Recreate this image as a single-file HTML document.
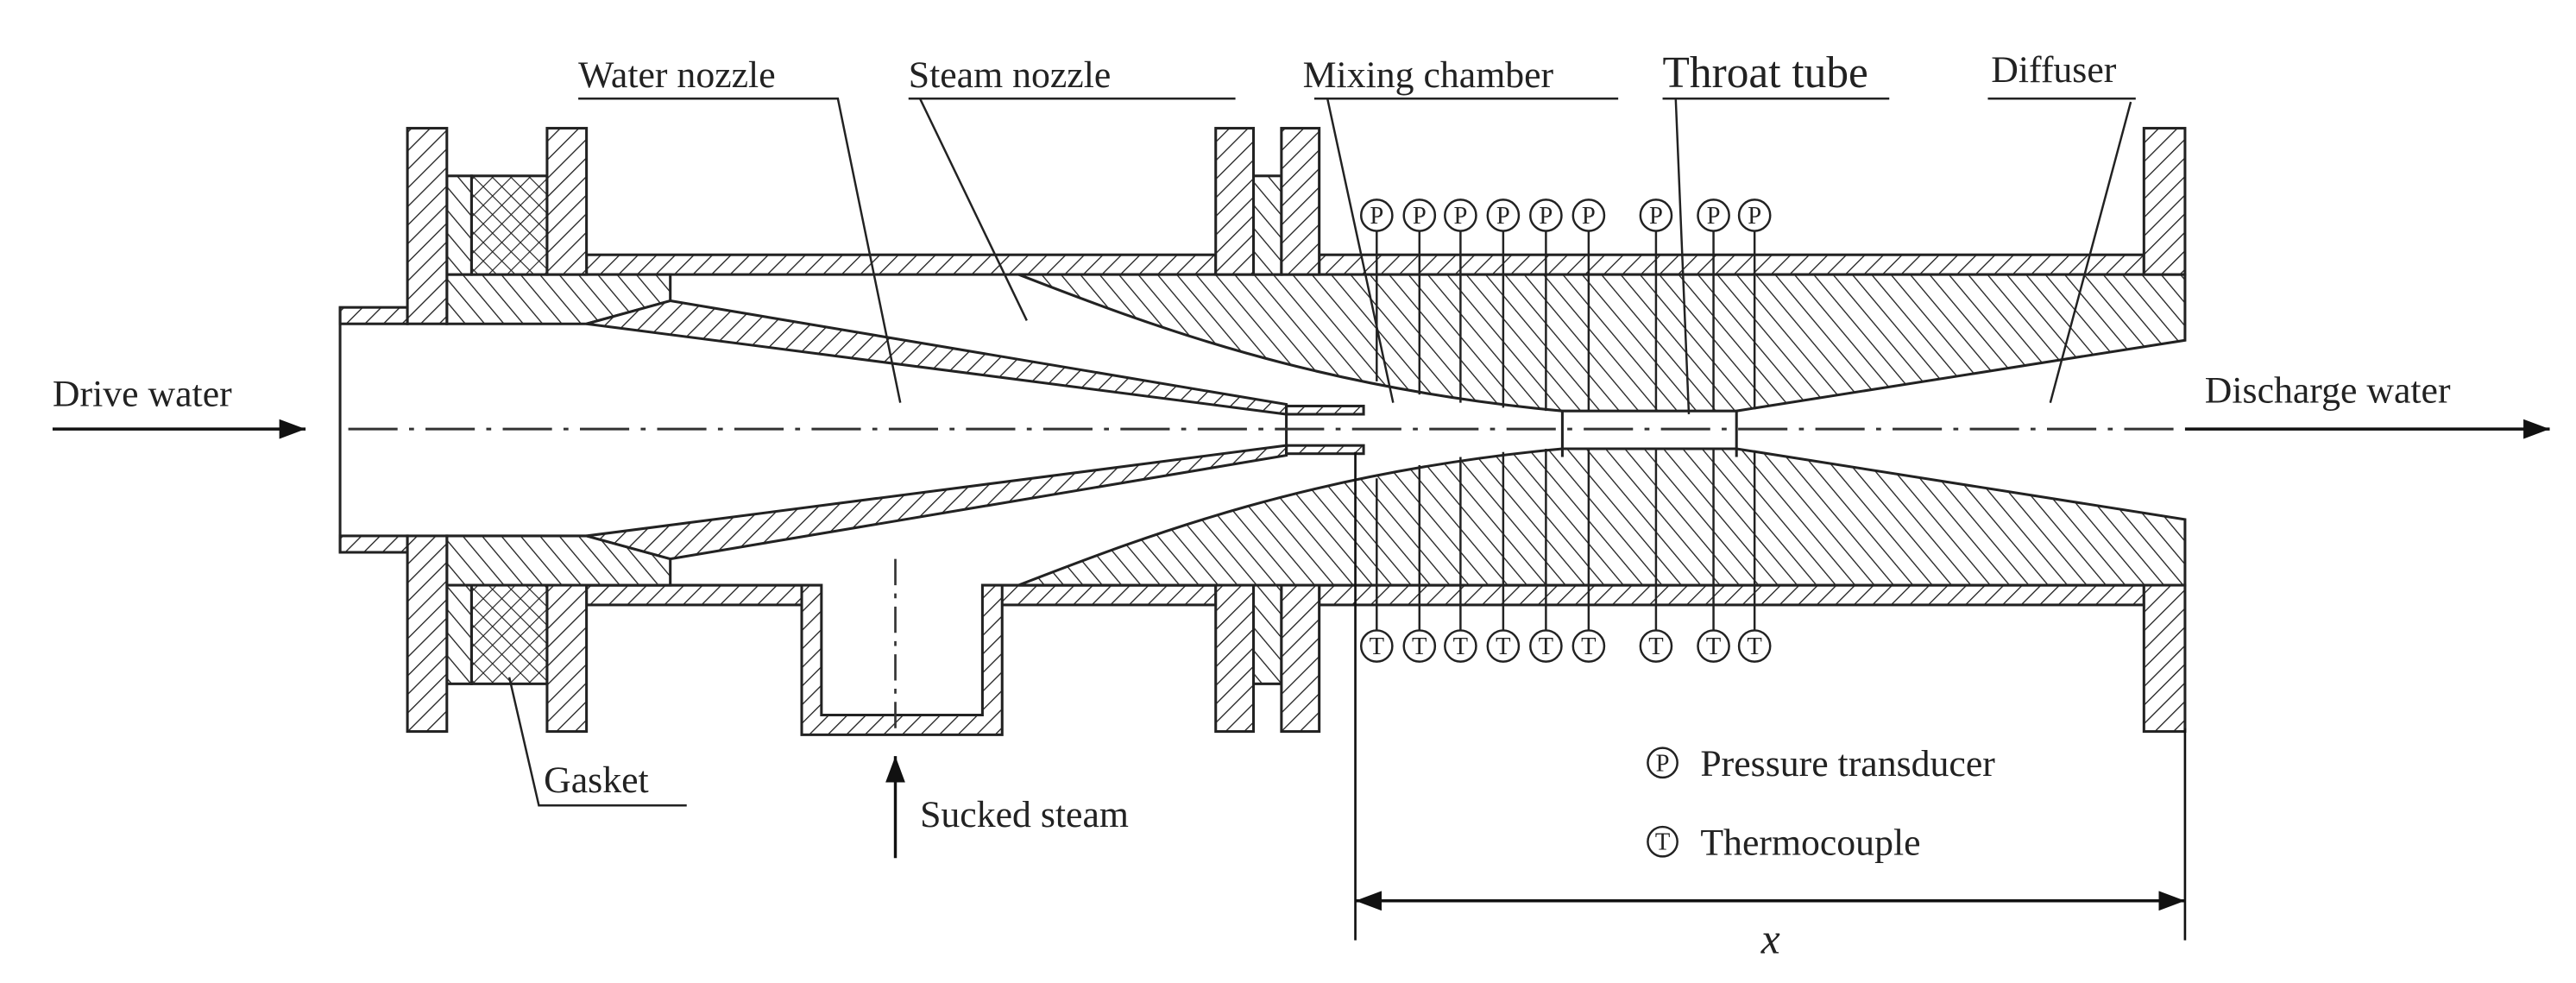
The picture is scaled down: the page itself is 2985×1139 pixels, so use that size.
<!DOCTYPE html>
<html><head><meta charset="utf-8"><style>
html,body{margin:0;padding:0;background:#fff;}
svg{display:block;}
text{font-family:"Liberation Serif",serif;fill:#222;}
</style></head><body>
<svg width="2985" height="1139" viewBox="0 0 1568 598" preserveAspectRatio="none" xmlns="http://www.w3.org/2000/svg">
<defs>
<pattern id="hF" patternUnits="userSpaceOnUse" width="8" height="8" patternTransform="rotate(45)">
<rect width="8" height="8" fill="#fff"/><line x1="0" y1="0" x2="0" y2="8" stroke="#222" stroke-width="1.4"/></pattern>
<pattern id="hB" patternUnits="userSpaceOnUse" width="9" height="9" patternTransform="rotate(-40)">
<rect width="9" height="9" fill="#fff"/><line x1="0" y1="0" x2="0" y2="9" stroke="#222" stroke-width="1.4"/></pattern>
<pattern id="hF2" patternUnits="userSpaceOnUse" width="8" height="8" patternTransform="rotate(-45)">
<rect width="8" height="8" fill="#fff"/><line x1="0" y1="0" x2="0" y2="8" stroke="#222" stroke-width="1.4"/></pattern>
<pattern id="hB2" patternUnits="userSpaceOnUse" width="9" height="9" patternTransform="rotate(40)">
<rect width="9" height="9" fill="#fff"/><line x1="0" y1="0" x2="0" y2="9" stroke="#222" stroke-width="1.4"/></pattern>
<pattern id="hX" patternUnits="userSpaceOnUse" width="8" height="8" patternTransform="rotate(45)">
<rect width="8" height="8" fill="#fff"/><line x1="0" y1="0" x2="0" y2="8" stroke="#222" stroke-width="1.2"/><line x1="0" y1="0" x2="8" y2="0" stroke="#222" stroke-width="1.2"/></pattern>
<marker id="arS" markerWidth="16" markerHeight="12" refX="16" refY="6" orient="auto" markerUnits="userSpaceOnUse"><path d="M0,0 L16,6 L0,12 Z" fill="#111"/></marker>
<marker id="arSb" markerWidth="16" markerHeight="12" refX="0" refY="6" orient="auto" markerUnits="userSpaceOnUse"><path d="M16,0 L0,6 L16,12 Z" fill="#111"/></marker>
</defs>
<g stroke="#222" stroke-width="1.6">
<g>
 <rect x="357" y="155" width="383" height="12" fill="url(#hF)"/>
 <rect x="803" y="155" width="502" height="12" fill="url(#hF)"/>
 <path d="M620,167 C700,198 800,236 951,250 L1057,250 L1330,207 L1330,167 Z" fill="url(#hB)"/>
 <rect x="207" y="187" width="41" height="10" fill="url(#hF)"/>
 <polygon points="272,167 408,167 408,183 357,197 272,197" fill="url(#hB)"/>
 <polygon points="408,183 783,246 783,252 357,197" fill="url(#hF)"/>
 <rect x="783" y="247" width="47" height="5" fill="url(#hF)"/>
 <rect x="287" y="107" width="46" height="60" fill="url(#hX)"/>
 <rect x="272" y="107" width="15" height="60" fill="url(#hB)"/>
 <rect x="763" y="107" width="17" height="60" fill="url(#hB)"/>
 <rect x="248" y="78" width="24" height="119" fill="url(#hF)"/>
 <rect x="333" y="78" width="24" height="89" fill="url(#hF)"/>
 <rect x="740" y="78" width="23" height="89" fill="url(#hF)"/>
 <rect x="780" y="78" width="23" height="89" fill="url(#hF)"/>
 <rect x="1305" y="78" width="25" height="89" fill="url(#hF)"/>
</g>
<g transform="translate(0,523) scale(1,-1)">
 <rect x="357" y="155" width="383" height="12" fill="url(#hF2)"/>
 <rect x="803" y="155" width="502" height="12" fill="url(#hF2)"/>
 <path d="M620,167 C700,198 800,236 951,250 L1057,250 L1330,207 L1330,167 Z" fill="url(#hB2)"/>
 <rect x="207" y="187" width="41" height="10" fill="url(#hF2)"/>
 <polygon points="272,167 408,167 408,183 357,197 272,197" fill="url(#hB2)"/>
 <polygon points="408,183 783,246 783,252 357,197" fill="url(#hF2)"/>
 <rect x="783" y="247" width="47" height="5" fill="url(#hF2)"/>
 <rect x="287" y="107" width="46" height="60" fill="url(#hX)"/>
 <rect x="272" y="107" width="15" height="60" fill="url(#hB2)"/>
 <rect x="763" y="107" width="17" height="60" fill="url(#hB2)"/>
 <rect x="248" y="78" width="24" height="119" fill="url(#hF2)"/>
 <rect x="333" y="78" width="24" height="89" fill="url(#hF2)"/>
 <rect x="740" y="78" width="23" height="89" fill="url(#hF2)"/>
 <rect x="780" y="78" width="23" height="89" fill="url(#hF2)"/>
 <rect x="1305" y="78" width="25" height="89" fill="url(#hF2)"/>
</g>
<rect x="489" y="354" width="120" height="15" fill="#fff" stroke="none"/>
<polygon points="488,356 488,447 610,447 610,356 598,356 598,435 500,435 500,356" fill="url(#hF)"/>
<line x1="357" y1="356" x2="488" y2="356"/><line x1="610" y1="356" x2="740" y2="356"/>
<line x1="783" y1="247" x2="783" y2="276"/>
<line x1="207" y1="187" x2="207" y2="336"/>
<line x1="951" y1="250" x2="951" y2="278"/><line x1="1057" y1="250" x2="1057" y2="278"/>
</g>
<line x1="212" y1="261" x2="1330" y2="261" stroke="#333" stroke-width="1.6" stroke-dasharray="30,7,3,7"/>
<line x1="545" y1="340" x2="545" y2="447" stroke="#333" stroke-width="1.4" stroke-dasharray="16,5,3,5"/>
<g stroke="#222" stroke-width="1.3" fill="#fff">
<g id="sens">
<line x1="838" y1="140" x2="838" y2="232"/><line x1="864" y1="140" x2="864" y2="240"/><line x1="889" y1="140" x2="889" y2="245"/><line x1="915" y1="140" x2="915" y2="248"/><line x1="941" y1="140" x2="941" y2="250"/><line x1="967" y1="140" x2="967" y2="250"/><line x1="1008" y1="140" x2="1008" y2="250"/><line x1="1043" y1="140" x2="1043" y2="250"/><line x1="1068" y1="140" x2="1068" y2="249"/>
</g>
<use href="#sens" transform="translate(0,523) scale(1,-1)"/>
<circle cx="838" cy="131" r="9.5"/><circle cx="864" cy="131" r="9.5"/><circle cx="889" cy="131" r="9.5"/><circle cx="915" cy="131" r="9.5"/><circle cx="941" cy="131" r="9.5"/><circle cx="967" cy="131" r="9.5"/><circle cx="1008" cy="131" r="9.5"/><circle cx="1043" cy="131" r="9.5"/><circle cx="1068" cy="131" r="9.5"/>
<circle cx="838" cy="393" r="9.5"/><circle cx="864" cy="393" r="9.5"/><circle cx="889" cy="393" r="9.5"/><circle cx="915" cy="393" r="9.5"/><circle cx="941" cy="393" r="9.5"/><circle cx="967" cy="393" r="9.5"/><circle cx="1008" cy="393" r="9.5"/><circle cx="1043" cy="393" r="9.5"/><circle cx="1068" cy="393" r="9.5"/>
<circle cx="1012" cy="464" r="9"/><circle cx="1012" cy="512" r="9"/>
</g>
<g font-size="15" text-anchor="middle" stroke="none">
<text x="838" y="136">P</text><text x="864" y="136">P</text><text x="889" y="136">P</text><text x="915" y="136">P</text><text x="941" y="136">P</text><text x="967" y="136">P</text><text x="1008" y="136">P</text><text x="1043" y="136">P</text><text x="1068" y="136">P</text>
<text x="838" y="398">T</text><text x="864" y="398">T</text><text x="889" y="398">T</text><text x="915" y="398">T</text><text x="941" y="398">T</text><text x="967" y="398">T</text><text x="1008" y="398">T</text><text x="1043" y="398">T</text><text x="1068" y="398">T</text>
<text x="1012" y="469">P</text><text x="1012" y="517">T</text>
</g>
<g stroke="#222" stroke-width="1.3" fill="none">
<polyline points="352,60 510,60 548,245"/>
<polyline points="553,60 752,60"/><line x1="560" y1="60" x2="625" y2="195"/>
<polyline points="800,60 985,60"/><line x1="808" y1="60" x2="848" y2="245"/>
<polyline points="1012,60 1150,60"/><line x1="1020" y1="60" x2="1028" y2="252"/>
<polyline points="1210,60 1300,60"/><line x1="1297" y1="62" x2="1248" y2="245"/>
<polyline points="418,490 328,490 310,412"/>
</g>
<g stroke="#111" stroke-width="1.8">
<line x1="32" y1="261" x2="186" y2="261" marker-end="url(#arS)"/>
<line x1="1330" y1="261" x2="1552" y2="261" marker-end="url(#arS)"/>
<line x1="545" y1="522" x2="545" y2="460" marker-end="url(#arS)"/>
<line x1="825" y1="275" x2="825" y2="572" stroke-width="1.4"/>
<line x1="1330" y1="443" x2="1330" y2="572" stroke-width="1.4"/>
<line x1="825" y1="548" x2="1330" y2="548" marker-end="url(#arS)" marker-start="url(#arSb)"/>
</g>
<g font-size="23">
<text x="352" y="53">Water nozzle</text>
<text x="553" y="53">Steam nozzle</text>
<text x="793" y="53">Mixing chamber</text>
<text x="1012" y="53" font-size="27">Throat tube</text>
<text x="1212" y="50">Diffuser</text>
<text x="32" y="247">Drive water</text>
<text x="1342" y="245">Discharge water</text>
<text x="331" y="482">Gasket</text>
<text x="560" y="503">Sucked steam</text>
<text x="1035" y="472">Pressure transducer</text>
<text x="1035" y="520">Thermocouple</text>
<text x="1072" y="580" font-style="italic" font-size="26">x</text>
</g>
</svg>
</body></html>
